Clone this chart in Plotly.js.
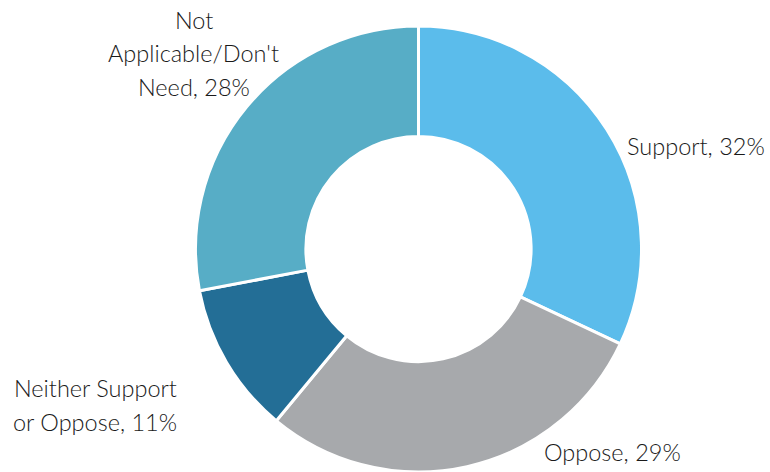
<!DOCTYPE html>
<html>
<head>
<meta charset="utf-8">
<script src="https://cdn.plot.ly/plotly-3.0.1.min.js"></script>
<style>html,body{margin:0;padding:0;background:#fff;}#chart{width:770px;height:472px;}</style>
</head>
<body>
<div id="chart"></div>
<script>
const labels = ["Support", "Oppose", "Neither Support or Oppose", "Not Applicable/Don't Need"];
const values = [32, 29, 11, 28];
const labelLines = [["Support, 32%"], ["Oppose, 29%"], ["Neither Support", "or Oppose, 11%"], ["Not", "Applicable/Don't", "Need, 28%"]];
const colors = ["#5BBCEB", "#A7A9AC", "#236E96", "#57ADC6"];

const labelPos = [
  {x: 625, y: 146, xanchor: "left"},
  {x: 542, y: 452, xanchor: "left"},
  {x: 95, y: 388, xanchor: "center"},
  {x: 194, y: 20, xanchor: "center"}
];
const lineGap = 33.5;

const W = 770, H = 472;
const annotations = [];
labelLines.forEach((lines, i) => {
  lines.forEach((t, k) => {
    annotations.push({
      text: t,
      xref: "paper", yref: "paper",
      x: labelPos[i].x / W, y: 1 - (labelPos[i].y + k * lineGap) / H,
      xanchor: labelPos[i].xanchor, yanchor: "middle",
      showarrow: false,
      font: {family: "Lato, 'Open Sans', sans-serif", size: 23.5, weight: 300, color: "#1a1a1a"}
    });
  });
});

const cx = 418.5, cy = 249.5, r = 223.5;
const trace = {
  type: "pie",
  labels: labels,
  values: values,
  hole: 0.505,
  sort: false,
  direction: "clockwise",
  rotation: 0,
  textinfo: "none",
  hoverinfo: "label+percent",
  marker: {colors: colors, line: {color: "#ffffff", width: 3}},
  domain: {x: [(cx - r) / W, (cx + r) / W], y: [1 - (cy + r) / H, 1 - (cy - r) / H]}
};

Plotly.newPlot("chart", [trace], {
  width: W, height: H,
  margin: {l: 0, r: 0, t: 0, b: 0},
  showlegend: false,
  paper_bgcolor: "#fff",
  annotations: annotations
}, {displayModeBar: false, staticPlot: true});
</script>
</body>
</html>
